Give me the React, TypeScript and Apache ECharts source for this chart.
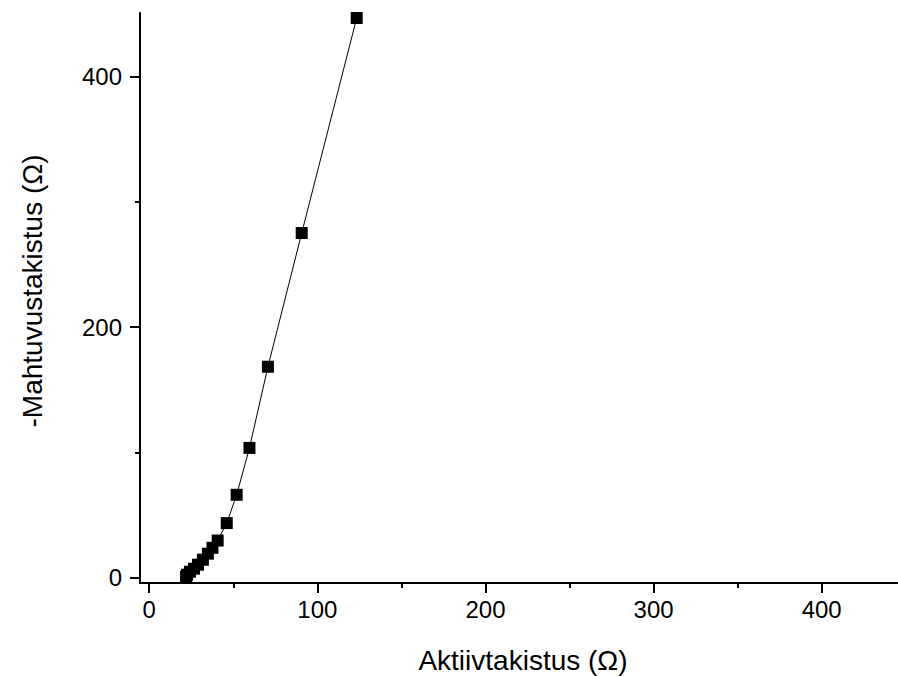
import React, { useEffect, useRef } from "react";
import * as echarts from "echarts";

const resistance = [21.9, 22.5, 24.2, 26.6, 29.0, 31.9, 34.9, 37.6, 40.7, 46.1, 52.0, 59.6, 70.6, 90.7, 123.4];
const reactance = [0.8, 2.4, 4.8, 7.2, 10.4, 14.4, 19.2, 23.9, 29.7, 43.6, 66.2, 103.6, 168.4, 275.1, 446.7];
const xMajorTicks = [0, 100, 200, 300, 400];
const xMinorTicks = [50, 150, 250, 350];
const yMajorTicks = [0, 200, 400];
const yMinorTicks = [100, 300];
const xTitle = "Aktiivtakistus (Ω)";
const yTitle = "-Mahtuvustakistus (Ω)";

const FONT = "'Liberation Sans', Arial, Helvetica, sans-serif";

export default function App() {
  const ref = useRef<HTMLDivElement>(null);
  useEffect(() => {
    if (!ref.current) return;
    const chart = echarts.init(ref.current, undefined, { renderer: "svg" });
    const axisLine = { show: true, onZero: false, lineStyle: { color: "#000", width: 2 } };
    const hiddenLine = { show: false, onZero: false };
    const xMin = -5.5, xMax = 445.4, yMin = -4.2, yMax = 450.7;
    chart.setOption({
      animation: false,
      backgroundColor: "#fff",
      grid: { left: 140, right: 0, top: 13, bottom: 94 },
      xAxis: [
        {
          type: "value", min: xMin, max: xMax, position: "bottom",
          axisLine,
          splitLine: { show: false },
          axisTick: { show: true, inside: false, customValues: xMajorTicks, length: 10, lineStyle: { color: "#000", width: 2 } },
          axisLabel: { show: true, customValues: xMajorTicks, margin: 14, color: "#000", fontSize: 24, fontFamily: FONT },
        },
        {
          type: "value", min: xMin, max: xMax, position: "bottom",
          axisLine: hiddenLine,
          splitLine: { show: false },
          axisTick: { show: true, inside: false, customValues: xMinorTicks, length: 5, lineStyle: { color: "#000", width: 2 } },
          axisLabel: { show: false },
        },
      ],
      yAxis: [
        {
          type: "value", min: yMin, max: yMax, position: "left",
          axisLine,
          splitLine: { show: false },
          axisTick: { show: true, inside: false, customValues: yMajorTicks, length: 10, lineStyle: { color: "#000", width: 2 } },
          axisLabel: { show: true, customValues: yMajorTicks, margin: 18, color: "#000", fontSize: 24, fontFamily: FONT },
        },
        {
          type: "value", min: yMin, max: yMax, position: "left",
          axisLine: hiddenLine,
          splitLine: { show: false },
          axisTick: { show: true, inside: false, customValues: yMinorTicks, length: 5, lineStyle: { color: "#000", width: 2 } },
          axisLabel: { show: false },
        },
      ],
      graphic: [
        {
          type: "text", x: 523, y: 660,
          style: { text: xTitle, fill: "#000", font: `28px ${FONT}`, textAlign: "center", textVerticalAlign: "middle" },
        },
        {
          type: "text", x: 32, y: 291, rotation: Math.PI / 2,
          style: { text: yTitle, fill: "#000", font: `28px ${FONT}`, textAlign: "center", textVerticalAlign: "middle" },
        },
      ],
      series: [
        {
          type: "line",
          xAxisIndex: 0, yAxisIndex: 0,
          data: resistance.map((r, i) => [r, reactance[i]]),
          symbol: "rect", symbolSize: 12,
          itemStyle: { color: "#000" },
          lineStyle: { color: "#000", width: 1 },
          clip: false,
        },
      ],
    });
    return () => chart.dispose();
  }, []);
  return <div ref={ref} style={{ position: "fixed", left: 0, top: 0, width: 898, height: 677 }} />;
}
